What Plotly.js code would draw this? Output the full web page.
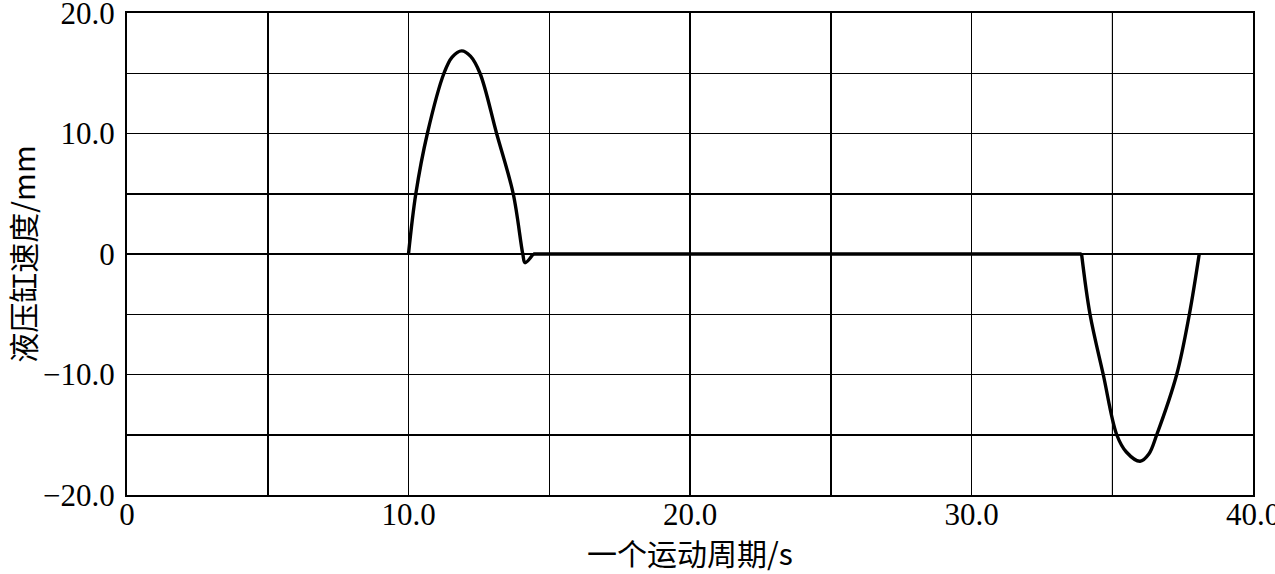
<!DOCTYPE html>
<html>
<head>
<meta charset="utf-8">
<script src="https://cdn.plot.ly/plotly-3.0.1.min.js"></script>
<style>html,body{margin:0;padding:0;background:#fff;}#chart{width:1275px;height:574px;}</style>
</head>
<body>
<div id="chart"></div>
<script>
// Data
const riseTime = [10.0, 10.26, 10.67, 11.26, 11.55, 11.89, 12.2, 12.54, 13.13, 13.72, 14.06, 14.14, 14.43];
const riseSpeed = [0, 5.0, 10.0, 15.0, 16.34, 16.86, 16.42, 15.0, 10.0, 5.0, 0, -0.72, 0];
const holdTime = [14.43, 33.91];
const holdSpeed = [0, 0];
const returnTime = [33.91, 34.21, 34.68, 35.16, 35.5, 35.99, 36.3, 36.58, 37.29, 37.74, 38.09];
const returnSpeed = [0, -5.0, -10.0, -15.0, -16.43, -17.2, -16.6, -15.0, -10.0, -5.0, 0];
const xTickVals = [0, 10, 20, 30, 40];
const xTickText = ["0", "10.0", "20.0", "30.0", "40.0"];
const yTickVals = [-20, -10, 0, 10, 20];
const yTickText = ["\u221220.0", "\u221210.0", "0", "10.0", "20.0"];
const xTitle = "一个运动周期/s";
const yTitle = "液压缸速度/mm";
const greyGridX = 35;

const tickFont = {family: "Liberation Serif, Times New Roman, serif", size: 31, color: "#000"};
const titleFont = {family: "Noto Sans CJK SC, Liberation Serif, serif", size: 30, color: "#000"};
const lineStyle = {color: "#000", width: 3.4, shape: "spline", smoothing: 1};

const traces = [
  {x: riseTime, y: riseSpeed, type: "scatter", mode: "lines", line: lineStyle, hoverinfo: "skip"},
  {x: holdTime, y: holdSpeed, type: "scatter", mode: "lines", line: {color: "#000", width: 3.4}, hoverinfo: "skip"},
  {x: returnTime, y: returnSpeed, type: "scatter", mode: "lines", line: lineStyle, hoverinfo: "skip"}
];

const layout = {
  width: 1275, height: 574,
  margin: {l: 127, r: 22, t: 13, b: 79},
  paper_bgcolor: "#fff", plot_bgcolor: "#fff",
  showlegend: false,
  xaxis: {
    range: [0, 40], tickvals: xTickVals, ticktext: xTickText,
    showgrid: true, gridcolor: "#000", gridwidth: 1.5,
    minor: {dtick: 5, tick0: 0, showgrid: true, gridcolor: "#000", gridwidth: 1.5},
    zeroline: false, showline: true, linecolor: "#000", linewidth: 2, mirror: true,
    ticks: "", tickfont: tickFont, ticklabelstandoff: -9, ticklabeloverflow: "allow",
    title: {text: xTitle, font: titleFont, standoff: 17},
    automargin: false, fixedrange: true
  },
  yaxis: {
    range: [-20, 20], tickvals: yTickVals, ticktext: yTickText,
    showgrid: true, gridcolor: "#000", gridwidth: 1.5,
    minor: {dtick: 5, tick0: 0, showgrid: true, gridcolor: "#000", gridwidth: 1.5},
    zeroline: false, showline: true, linecolor: "#000", linewidth: 2, mirror: true,
    ticks: "", tickfont: tickFont, ticklabelstandoff: 4, ticklabeloverflow: "allow",
    title: {text: yTitle, font: titleFont, standoff: 14},
    automargin: false, fixedrange: true
  },
  shapes: [
    {type: "line", xref: "x", yref: "paper", x0: greyGridX, x1: greyGridX, y0: 0, y1: 1, layer: "below", line: {color: "#fff", width: 3}},
    {type: "line", xref: "x", yref: "paper", x0: greyGridX, x1: greyGridX, y0: 0, y1: 1, layer: "below", line: {color: "#888", width: 1.2}}
  ]
};

Plotly.newPlot("chart", traces, layout, {staticPlot: true, displayModeBar: false});
</script>
</body>
</html>
